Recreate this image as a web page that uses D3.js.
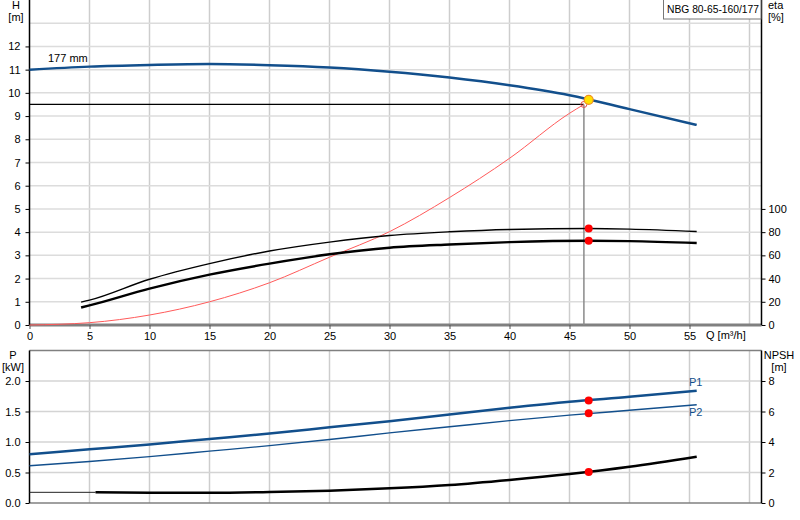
<!DOCTYPE html>
<html><head><meta charset="utf-8">
<script src="https://cdn.jsdelivr.net/npm/d3@7"></script>
<style>body{margin:0;background:#fff}svg{display:block;font-family:"Liberation Sans",Arial,sans-serif;font-size:11px}</style>
</head><body>
<svg id="c" width="800" height="520"></svg>
<script>
// ---- data ----
const qTicks = [0,5,10,15,20,25,30,35,40,45,50,55];
const hTicks = [0,1,2,3,4,5,6,7,8,9,10,11,12];
const etaTicks = [0,20,40,60,80,100];
const pTicks = [0,0.5,1.0,1.5,2.0];
const npshTicks = [0,2,4,6,8];

const qH   = [0,5,10,15,20,25,30,35,40,45,50,55.6];
const head = [11.0,11.13,11.2,11.24,11.19,11.09,10.91,10.66,10.33,9.90,9.30,8.62];

const qEta     = [4.3,5,10,15,20,25,30,35,40,46.6,50,55.6];
const etaPump  = [19.7,21.4,39.4,52.9,63.7,71.4,77.1,80.3,82.3,83.1,82.6,80.6];
const etaTotal = [15.1,16.9,31.4,43.4,52.9,60.9,66.6,69.4,71.4,72.6,72.3,70.6];

const qSys = [0,5,10,15,20,25,30,35,40,45,46.2];
const hSys = [0,0.1,0.43,1.0,1.82,2.92,4.02,5.49,7.18,9.12,9.5];

const qP = [0,5,10,15,20,25,30,35,40,45,50,55.6];
const p1 = [0.80,0.88,0.96,1.05,1.14,1.24,1.34,1.45,1.56,1.66,1.74,1.84];
const p2 = [0.61,0.68,0.76,0.85,0.94,1.04,1.15,1.25,1.35,1.44,1.52,1.61];

const qNpshStart = [0,5.5];
const npshStart  = [0.70,0.70];
const qNpsh = [5.5,10,15,20,25,30,35,40,45,50,55.6];
const npsh  = [0.70,0.68,0.67,0.72,0.81,0.96,1.18,1.51,1.90,2.38,3.04];

const opQ = 46.6, opH = 9.70, opEtaP = 83.1, opEtaT = 72.6, opP1 = 1.68, opP2 = 1.47, opNpsh = 2.03;
const dutyQ = 46.2, dutyH = 9.5;

// ---- scales ----
const svg = d3.select("#c");
const x = d3.scaleLinear().domain([0,61]).range([29.5,761.5]);
const yH = d3.scaleLinear().domain([0,14]).range([325,0]);
const yE = d3.scaleLinear().domain([0,280]).range([325,0]);
const yP = d3.scaleLinear().domain([0,2.5]).range([503,350.5]);
const yN = d3.scaleLinear().domain([0,10]).range([503,350.5]);
const blue = "#124f8c";

// ---- grids ----
const g = svg.append("g");
const vq = [5,10,15,20,25,30,35,40,45,50,55,60];
g.selectAll(".vt").data(vq).join("line").attr("x1",d=>x(d)).attr("x2",d=>x(d)).attr("y1",0).attr("y2",325).attr("stroke","#cdcdcd").attr("stroke-width",1.5);
g.selectAll(".ht").data(d3.range(1,14)).join("line").attr("x1",x(0)).attr("x2",x(61)).attr("y1",d=>yH(d)).attr("y2",d=>yH(d)).attr("stroke","#dcdcdc").attr("stroke-width",1.5);
g.selectAll(".vb").data(vq).join("line").attr("x1",d=>x(d)).attr("x2",d=>x(d)).attr("y1",350.5).attr("y2",503).attr("stroke","#cdcdcd").attr("stroke-width",1.5);
g.selectAll(".hb").data([0.5,1.0,1.5,2.0]).join("line").attr("x1",x(0)).attr("x2",x(61)).attr("y1",d=>yP(d)).attr("y2",d=>yP(d)).attr("stroke","#d4d4d4").attr("stroke-width",1.5);

// frames
svg.append("line").attr("x1",x(0)).attr("x2",x(61)).attr("y1",325).attr("y2",325).attr("stroke","#808080").attr("stroke-width",3);
svg.append("line").attr("x1",x(0)).attr("x2",x(61)).attr("y1",350.5).attr("y2",350.5).attr("stroke","#808080").attr("stroke-width",1.5);
svg.append("line").attr("x1",x(0)).attr("x2",x(61)).attr("y1",503).attr("y2",503).attr("stroke","#808080").attr("stroke-width",1.5);

// ---- axes ----
function styleAxis(sel){ sel.select(".domain").remove(); sel.selectAll("text").attr("fill","#000").style("font-size","11px"); sel.selectAll(".tick line").attr("stroke","#000"); }
svg.append("g").attr("transform",`translate(${x(0)},0)`).call(d3.axisLeft(yH).tickValues(hTicks).tickSize(4).tickPadding(5)).call(styleAxis);
svg.append("g").attr("transform",`translate(${x(61)},0)`).call(d3.axisRight(yE).tickValues(etaTicks).tickSize(4).tickPadding(3)).call(styleAxis);
svg.append("g").attr("transform",`translate(0,325)`).call(d3.axisBottom(x).tickValues(qTicks).tickSize(4).tickPadding(3)).call(styleAxis).selectAll(".tick line").attr("stroke","#555");
svg.append("g").attr("transform",`translate(${x(0)},0)`).call(d3.axisLeft(yP).tickValues(pTicks).tickFormat(d3.format(".1f")).tickSize(4).tickPadding(5)).call(styleAxis);
svg.append("g").attr("transform",`translate(${x(61)},0)`).call(d3.axisRight(yN).tickValues(npshTicks).tickSize(4).tickPadding(3)).call(styleAxis);

svg.append("line").attr("x1",x(0)).attr("x2",x(0)).attr("y1",0).attr("y2",325).attr("stroke","#000").attr("stroke-width",1.5);
svg.append("line").attr("x1",x(61)).attr("x2",x(61)).attr("y1",0).attr("y2",325).attr("stroke","#000").attr("stroke-width",1.5);
svg.append("line").attr("x1",x(0)).attr("x2",x(0)).attr("y1",350.5).attr("y2",503).attr("stroke","#000").attr("stroke-width",1.5);
svg.append("line").attr("x1",x(61)).attr("x2",x(61)).attr("y1",350.5).attr("y2",503).attr("stroke","#000").attr("stroke-width",1.5);

// axis titles
const t = (tx,ty,s,anchor)=>svg.append("text").attr("x",tx).attr("y",ty).attr("text-anchor",anchor||"middle").attr("fill","#000").text(s);
t(16,9,"H"); t(16,21,"[m]");
t(768,9,"eta","start"); t(768,21,"[%]","start");
t(13,359,"P"); t(13,371,"[kW]");
t(779,359,"NPSH"); t(779,371,"[m]");
t(706,339,"Q [m³/h]","start");
t(48,62,"177 mm","start");

// legend box
svg.append("rect").attr("x",663.5).attr("y",-1).attr("width",97.5).attr("height",20).attr("fill","#fff").attr("stroke","#777").attr("stroke-width",1);
svg.append("text").attr("x",667).attr("y",13).attr("fill","#000").attr("textLength",92).attr("lengthAdjust","spacingAndGlyphs").text("NBG 80-65-160/177");

// ---- curves ----
const lineOf = (xs,ys,yS)=>d3.line().curve(d3.curveMonotoneX).x((d,i)=>x(xs[i])).y((d,i)=>yS(ys[i]))(ys);
const path = (dstr,col,w)=>svg.append("path").attr("d",dstr).attr("fill","none").attr("stroke",col).attr("stroke-width",w).attr("stroke-linejoin","round");

// duty lines
svg.append("line").attr("x1",x(0)).attr("x2",x(dutyQ)).attr("y1",yH(dutyH)).attr("y2",yH(dutyH)).attr("stroke","#000").attr("stroke-width",1.2);
svg.append("line").attr("x1",x(dutyQ)).attr("x2",x(dutyQ)).attr("y1",yH(dutyH)).attr("y2",325).attr("stroke","#8a8a8a").attr("stroke-width",1.5);

path(lineOf(qSys,hSys,yH),"#ff5a5a",1);
path(lineOf(qEta,etaPump,yE),"#000",1.4);
path(lineOf(qEta,etaTotal,yE),"#000",2.4);
path(lineOf(qH,head,yH),blue,2.5);

path(lineOf(qP,p1,yP),blue,2.5);
path(lineOf(qP,p2,yP),blue,1.4);
path(lineOf(qNpshStart,npshStart,yN),"#222",1);
path(lineOf(qNpsh,npsh,yN),"#000",2.5);

// labels P1 P2
svg.append("text").attr("x",689).attr("y",386).attr("fill",blue).text("P1");
svg.append("text").attr("x",689).attr("y",416).attr("fill",blue).text("P2");

// points
svg.append("circle").attr("cx",x(dutyQ)).attr("cy",yH(dutyH)).attr("r",3).attr("fill","none").attr("stroke","#e05050").attr("stroke-width",1);
svg.append("circle").attr("cx",x(opQ)).attr("cy",yH(opH)).attr("r",4.5).attr("fill","#ffe000").attr("stroke","#f09020").attr("stroke-width",1.2);
const dot=(cx,cy)=>svg.append("circle").attr("cx",cx).attr("cy",cy).attr("r",4).attr("fill","#ff0000");
dot(x(opQ),yE(opEtaP)); dot(x(opQ),yE(opEtaT));
dot(x(opQ),yP(opP1)); dot(x(opQ),yP(opP2)); dot(x(opQ),yN(opNpsh));
</script>
</body></html>
